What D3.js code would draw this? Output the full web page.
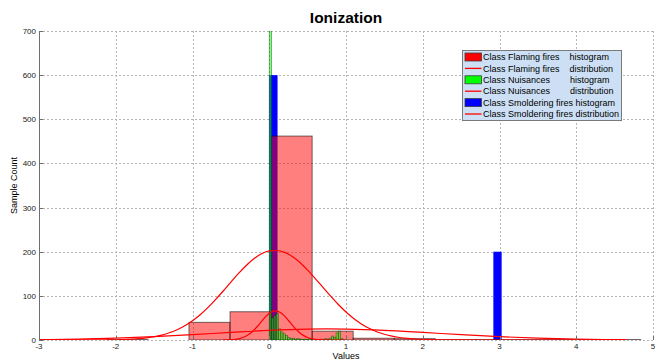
<!DOCTYPE html>
<html>
<head>
<meta charset="utf-8">
<script src="https://cdn.jsdelivr.net/npm/d3@7/dist/d3.min.js"></script>
<style>
  html, body { margin: 0; padding: 0; background: #fff; }
  svg { display: block; font-family: "Liberation Sans", Arial, sans-serif; }
  .pre { white-space: pre; }
</style>
</head>
<body>
<svg id="chart" width="655" height="361"></svg>
<script>
// ---- data ----
const xTicks = [-3, -2, -1, 0, 1, 2, 3, 4, 5];
const yTicks = [0, 100, 200, 300, 400, 500, 600, 700];

// Flaming fires histogram: first bin edge, bin width, counts
const flamingStart = -2.116;
const flamingWidth = 0.535;
const flamingCounts = [1, 0, 40, 64, 462, 20, 4, 3, 1, 1, 1, 1, 1];

// Nuisances histogram
const nuisanceStart = 0.0;
const nuisanceWidth = 0.03;
const nuisanceCounts = [760, 50, 55, 60, 25, 18, 14, 10, 6, 3, 4, 2, 3, 2, 1, 2, 1, 3, 1, 0,
                        1, 0, 2, 1, 3, 2, 4, 9, 6, 16, 20, 3];

// Smoldering fires histogram (only non-empty bins)
const smolderBins = [0.0, 2.92];
const smolderWidth = 0.108;
const smolderCounts = [600, 200];

// Fitted distribution curves [value, count]
const flamingDistX = [-3, -2.2, -2.0, -1.9, -1.8, -1.7, -1.6, -1.5, -1.4, -1.3, -1.2, -1.1, -1.0, -0.9, -0.8,
  -0.7, -0.6, -0.5, -0.4, -0.3, -0.2, -0.1, 0.0, 0.1, 0.2, 0.3, 0.4, 0.5, 0.6, 0.7, 0.8, 0.9, 1.0,
  1.1, 1.2, 1.3, 1.4, 1.5, 1.6, 1.7, 1.8, 1.9, 2.0, 2.2, 2.5, 3.0, 4.65];
const flamingDistY = [0, 0.2, 0.6, 1.1, 1.9, 3.0, 4.8, 7.4, 11.1, 16.3, 23.2, 32.3, 43.6, 57.3, 73.4,
  91.5, 111.0, 131.2, 150.9, 168.9, 184.1, 195.3, 201.7, 202.8, 198.4, 189.1, 175.4, 158.3, 139.2, 119.1, 99.2, 80.4, 63.5,
  48.8, 36.5, 26.6, 18.8, 13.0, 8.7, 5.7, 3.6, 2.3, 1.4, 0.5, 0.1, 0, 0];

const nuisanceDistX = [-0.6, -0.5, -0.4, -0.3, -0.25, -0.2, -0.15, -0.1, -0.05, 0.0, 0.05, 0.1, 0.15, 0.2,
  0.25, 0.3, 0.35, 0.4, 0.45, 0.5, 0.6, 0.7, 0.8, 1.0];
const nuisanceDistY = [0.1, 0.6, 2.7, 8.9, 14.6, 22.3, 31.7, 42.1, 52.2, 60.4, 65.2, 65.6, 61.7, 54.1,
  44.2, 33.8, 24.0, 16.0, 9.9, 5.7, 1.6, 0.3, 0, 0];

const smolderDistX = [-3, -2.5, -2, -1.5, -1, -0.5, 0, 0.5, 0.75, 1, 1.5, 2, 2.5, 3, 3.5, 4, 4.5, 4.65];
const smolderDistY = [0.9, 2.0, 4.1, 7.5, 12.1, 17.2, 21.9, 24.6, 25, 24.6, 21.9, 17.2, 12.1, 7.5, 4.1, 2.0, 0.9, 0.7];

const legendItems = [
  { label: "Class Flaming fires    histogram", kind: "patch", color: "#ff0000" },
  { label: "Class Flaming fires    distribution", kind: "line", color: "#ff0000" },
  { label: "Class Nuisances        histogram", kind: "patch", color: "#00ff00" },
  { label: "Class Nuisances        distribution", kind: "line", color: "#ff0000" },
  { label: "Class Smoldering fires histogram", kind: "patch", color: "#0000ff" },
  { label: "Class Smoldering fires distribution", kind: "line", color: "#ff0000" }
];

// ---- layout ----
const svg = d3.select("#chart");
const pL = 39, pR = 653, pT = 31, pB = 340;
const x = d3.scaleLinear().domain([-3, 5]).range([pL, pR]);
const y = d3.scaleLinear().domain([0, 700]).range([pB, pT]);

svg.append("defs").append("clipPath").attr("id", "plotClip")
  .append("rect").attr("x", pL).attr("y", pT).attr("width", pR - pL).attr("height", pB - pT);

// grid
const grid = svg.append("g").attr("stroke", "#b4b4b4").attr("stroke-width", 1).attr("stroke-dasharray", "2,2");
grid.selectAll("line.v").data(xTicks).join("line").attr("class", "v")
  .attr("x1", d => Math.round(x(d)) + 0.5).attr("x2", d => Math.round(x(d)) + 0.5)
  .attr("y1", pT).attr("y2", pB);
grid.selectAll("line.h").data(yTicks).join("line").attr("class", "h")
  .attr("x1", pL).attr("x2", pR)
  .attr("y1", d => Math.round(y(d)) + 0.5).attr("y2", d => Math.round(y(d)) + 0.5);

const plot = svg.append("g").attr("clip-path", "url(#plotClip)");
const bw = w => x(w) - x(0);

// Smoldering fires bars (opaque, drawn first)
plot.append("g").selectAll("rect").data(smolderCounts).join("rect")
  .attr("x", (d, i) => x(smolderBins[i]))
  .attr("width", bw(smolderWidth))
  .attr("y", d => y(d))
  .attr("height", d => y(0) - y(d))
  .attr("fill", "#0000ff");

// Flaming fires bars
plot.append("g").selectAll("rect").data(flamingCounts).join("rect")
  .attr("x", (d, i) => x(flamingStart + i * flamingWidth))
  .attr("width", bw(flamingWidth))
  .attr("y", d => y(d))
  .attr("height", d => y(0) - y(d))
  .attr("fill", "rgba(255,0,0,0.5)")
  .attr("stroke", "rgba(0,0,0,0.55)")
  .attr("stroke-width", 1);

// Nuisances bars
plot.append("g").selectAll("rect").data(nuisanceCounts).join("rect")
  .attr("x", (d, i) => x(nuisanceStart + i * nuisanceWidth))
  .attr("width", bw(nuisanceWidth))
  .attr("y", d => y(d))
  .attr("height", d => y(0) - y(d))
  .attr("fill", "rgba(0,255,0,0.5)")
  .attr("stroke", "rgba(0,60,0,0.5)")
  .attr("stroke-width", 0.8);

// distribution curves
const line = d3.line().curve(d3.curveMonotoneX);
[[flamingDistX, flamingDistY], [nuisanceDistX, nuisanceDistY], [smolderDistX, smolderDistY]].forEach(([xs, ys]) => {
  plot.append("path")
    .attr("d", line(xs.map((v, i) => [x(v), y(ys[i])])))
    .attr("fill", "none").attr("stroke", "#ff0000").attr("stroke-width", 1.2);
});

// left axis line and ticks
svg.append("line").attr("x1", pL + 0.5).attr("x2", pL + 0.5).attr("y1", pT).attr("y2", pB)
  .attr("stroke", "#6e6e6e").attr("stroke-width", 1);
svg.append("g").selectAll("line").data(yTicks).join("line")
  .attr("x1", pL).attr("x2", pL + 4)
  .attr("y1", d => Math.round(y(d)) + 0.5).attr("y2", d => Math.round(y(d)) + 0.5)
  .attr("stroke", "#6e6e6e");
svg.append("g").selectAll("line").data(xTicks).join("line")
  .attr("x1", d => Math.round(x(d)) + 0.5).attr("x2", d => Math.round(x(d)) + 0.5)
  .attr("y1", pB).attr("y2", pB - 4)
  .attr("stroke", "#6e6e6e");

// tick labels
svg.append("g").selectAll("text").data(yTicks).join("text")
  .attr("x", pL - 3).attr("y", d => y(d) + 3)
  .attr("text-anchor", "end").attr("font-size", 8).attr("fill", "#222")
  .text(d => d);
svg.append("g").selectAll("text").data(xTicks).join("text")
  .attr("x", d => x(d)).attr("y", pB + 8.5)
  .attr("text-anchor", "middle").attr("font-size", 8).attr("fill", "#222")
  .text(d => d);

// axis titles
svg.append("text").attr("x", (pL + pR) / 2).attr("y", 359)
  .attr("text-anchor", "middle").attr("font-size", 9).attr("fill", "#000").text("Values");
svg.append("text").attr("transform", `translate(17,${(pT + pB) / 2}) rotate(-90)`)
  .attr("text-anchor", "middle").attr("font-size", 9).attr("fill", "#000").text("Sample Count");
svg.append("text").attr("x", (pL + pR) / 2).attr("y", 23)
  .attr("text-anchor", "middle").attr("font-size", 15.5).attr("font-weight", "bold").attr("fill", "#000")
  .text("Ionization");

// legend
const lg = svg.append("g").attr("transform", "translate(462.5,50.5)");
lg.append("rect").attr("width", 159).attr("height", 70)
  .attr("fill", "#cddff4").attr("stroke", "#7a7a7a").attr("stroke-width", 1);
const rowH = 11.4;
legendItems.forEach((it, i) => {
  const cy = 6.5 + i * rowH;
  if (it.kind === "patch") {
    lg.append("rect").attr("x", 2.5).attr("y", cy - 4).attr("width", 16.5).attr("height", 8)
      .attr("fill", it.color).attr("stroke", "#3c3c3c").attr("stroke-width", 0.8);
  } else {
    lg.append("line").attr("x1", 2.5).attr("x2", 19).attr("y1", cy).attr("y2", cy)
      .attr("stroke", it.color).attr("stroke-width", 1.3);
  }
  lg.append("text").attr("class", "pre").attr("x", 20.5).attr("y", cy + 3.2)
    .attr("font-size", 9).attr("fill", "#000").text(it.label);
});
</script>
</body>
</html>
